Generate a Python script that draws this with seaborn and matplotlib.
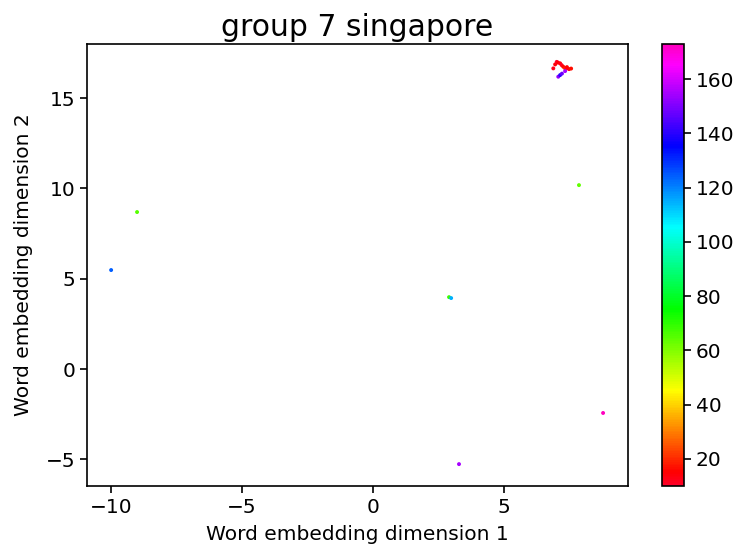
import numpy as np
import pandas as pd
import matplotlib
matplotlib.use("Agg")
import matplotlib.pyplot as plt
import seaborn as sns

sns.set_style("ticks")
plt.rcParams["font.family"] = ["DejaVu Sans"]
plt.rcParams.update({
    "text.color": "black",
    "axes.labelcolor": "black",
    "axes.edgecolor": "black",
    "xtick.color": "black",
    "ytick.color": "black",
})

# 2-D word embedding coordinates and the word index used for colouring
dim1 = [6.88, 6.95, 7.01, 7.06, 7.14, 7.20, 7.26, 7.33, 7.39, 7.48, 7.56, 7.40,
        7.07, 7.14, 7.21, 7.33,
        -9.01, -10.0, 2.90, 2.98, 7.86, 8.78, 3.28]
dim2 = [16.64, 16.86, 17.00, 16.96, 16.92, 16.82, 16.73, 16.64, 16.64, 16.60, 16.63, 16.71,
        16.18, 16.27, 16.35, 16.49,
        8.69, 5.48, 3.98, 3.93, 10.18, -2.43, -5.26]
word_index = [12, 14, 10, 15, 13, 11, 16, 18, 12, 14, 17, 15,
              152, 140, 148, 155,
              65, 124, 68, 115, 64, 173, 155]

title = "group 7 singapore"
xlabel = "Word embedding dimension 1"
ylabel = "Word embedding dimension 2"

df = pd.DataFrame({"x": dim1, "y": dim2, "c": word_index})
vmin, vmax = min(word_index), max(word_index)

fig = plt.figure(figsize=(7.4, 5.52), dpi=100)
ax = fig.add_axes([0.1176, 0.1196, 0.731, 0.8007])
cax = fig.add_axes([0.8946, 0.1196, 0.0297, 0.8007])

sns.scatterplot(data=df, x="x", y="y", hue="c", palette="gist_rainbow",
                hue_norm=(vmin, vmax), s=8, linewidth=0, legend=False, ax=ax)

ax.set_xlim(-10.92, 9.73)
ax.set_ylim(-6.47, 17.99)
ax.set_xticks([-10, -5, 0, 5])
ax.set_yticks([-5, 0, 5, 10, 15])
ax.set_title(title, fontsize=21.5)
ax.set_xlabel(xlabel, fontsize=14.5, labelpad=6)
ax.set_ylabel(ylabel, fontsize=14.5, labelpad=9)
ax.tick_params(labelsize=14.5, width=1.2, length=5)
for sp in ax.spines.values():
    sp.set_linewidth(1.2)

sm = plt.cm.ScalarMappable(cmap="gist_rainbow",
                           norm=plt.Normalize(vmin=vmin, vmax=vmax))
cb = fig.colorbar(sm, cax=cax)
cb.ax.tick_params(labelsize=14.5, width=1.2, length=5)
cb.outline.set_linewidth(1.2)

fig.savefig("out.png", dpi=100)
